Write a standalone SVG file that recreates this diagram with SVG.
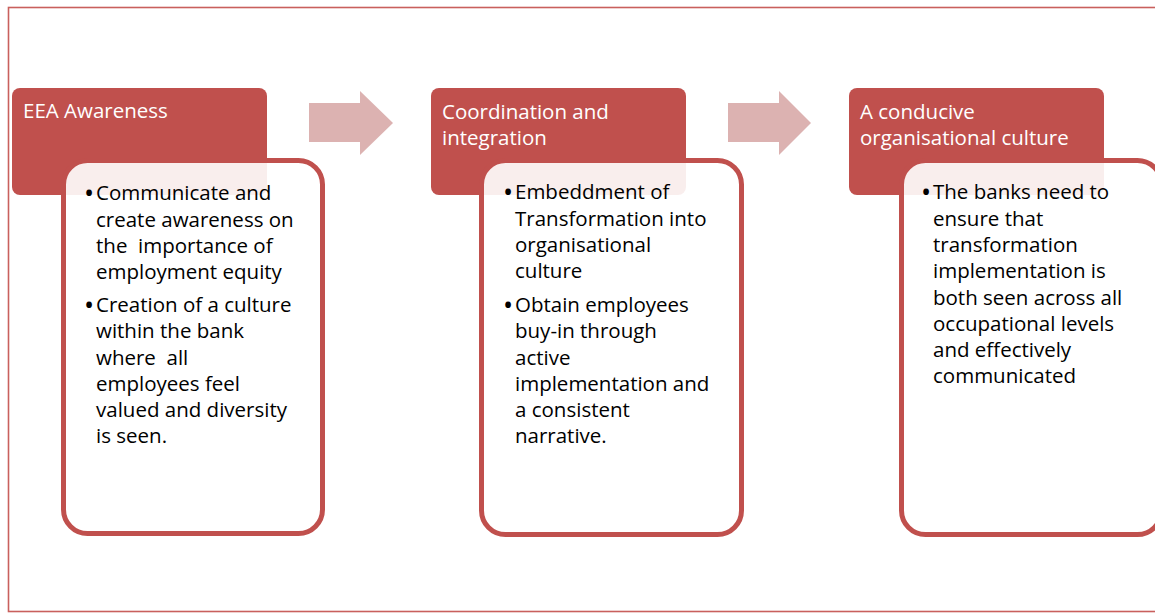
<svg xmlns="http://www.w3.org/2000/svg" width="1155" height="614" viewBox="0 0 1155 614">
  <style>
    .frame { fill: none; stroke: #c9605d; stroke-width: 1.6; }
    .head { fill: #c0504d; }
    .head-text { fill: #ffffff; font-family: "Open Sans", Lato, sans-serif; font-size: 20.5px; }
    .body { fill: #ffffff; fill-opacity: 0.9; stroke: #c0504d; stroke-width: 5; }
    .body-text { fill: #000000; font-family: "Open Sans", Lato, sans-serif; font-size: 20.5px; white-space: pre; }
    .dot { font-size: 27px; }
    .step { fill: #dcb2b1; }
  </style>

  <!-- outer frame -->
  <rect class="frame" x="8.5" y="7.5" width="1160" height="604"/>

  <!-- step arrows -->
  <g id="connectors">
    <polygon class="step" points="309,103 360,103 360,91 393,123 360,155 360,142 309,142"/>
    <polygon class="step" points="728,103 779,103 779,91 811,123 779,155 779,142 728,142"/>
  </g>

  <!-- stage 1 -->
  <g id="stage-awareness">
    <rect class="head" x="12" y="88" width="255" height="107" rx="8"/>
    <text class="head-text" x="23" y="118">EEA Awareness</text>
    <rect class="body" x="63.5" y="160.5" width="259" height="373" rx="24"/>
    <text class="body-text">
      <tspan class="dot" x="84" y="202.5">•</tspan><tspan x="96" y="200">Communicate and</tspan>
      <tspan x="96" y="226.5">create awareness on</tspan>
      <tspan x="96" y="253">the  importance of</tspan>
      <tspan x="96" y="279">employment equity</tspan>
      <tspan class="dot" x="84" y="314.5">•</tspan><tspan x="96" y="312">Creation of a culture</tspan>
      <tspan x="96" y="338">within the bank</tspan>
      <tspan x="96" y="364.5">where  all</tspan>
      <tspan x="96" y="391">employees feel</tspan>
      <tspan x="96" y="417">valued and diversity</tspan>
      <tspan x="96" y="443">is seen.</tspan>
    </text>
  </g>

  <!-- stage 2 -->
  <g id="stage-coordination">
    <rect class="head" x="431" y="88" width="255" height="107" rx="8"/>
    <text class="head-text">
      <tspan x="442" y="119">Coordination and</tspan>
      <tspan x="442" y="145">integration</tspan>
    </text>
    <rect class="body" x="481.5" y="160.5" width="260" height="374" rx="24"/>
    <text class="body-text">
      <tspan class="dot" x="503" y="201.5">•</tspan><tspan x="515" y="199">Embeddment of</tspan>
      <tspan x="515" y="225.5">Transformation into</tspan>
      <tspan x="515" y="252">organisational</tspan>
      <tspan x="515" y="278">culture</tspan>
      <tspan class="dot" x="503" y="314.5">•</tspan><tspan x="515" y="312">Obtain employees</tspan>
      <tspan x="515" y="338">buy-in through</tspan>
      <tspan x="515" y="364.5">active</tspan>
      <tspan x="515" y="391">implementation and</tspan>
      <tspan x="515" y="417">a consistent</tspan>
      <tspan x="515" y="443">narrative.</tspan>
    </text>
  </g>

  <!-- stage 3 -->
  <g id="stage-culture">
    <rect class="head" x="849" y="88" width="255" height="107" rx="8"/>
    <text class="head-text">
      <tspan x="860" y="119">A conducive</tspan>
      <tspan x="860" y="145">organisational culture</tspan>
    </text>
    <rect class="body" x="901.5" y="160.5" width="260" height="374" rx="24"/>
    <text class="body-text">
      <tspan class="dot" x="921" y="201.5">•</tspan><tspan x="933" y="199">The banks need to</tspan>
      <tspan x="933" y="225.5">ensure that</tspan>
      <tspan x="933" y="252">transformation</tspan>
      <tspan x="933" y="278">implementation is</tspan>
      <tspan x="933" y="304.5">both seen across all</tspan>
      <tspan x="933" y="331">occupational levels</tspan>
      <tspan x="933" y="357">and effectively</tspan>
      <tspan x="933" y="383">communicated</tspan>
    </text>
  </g>
</svg>
